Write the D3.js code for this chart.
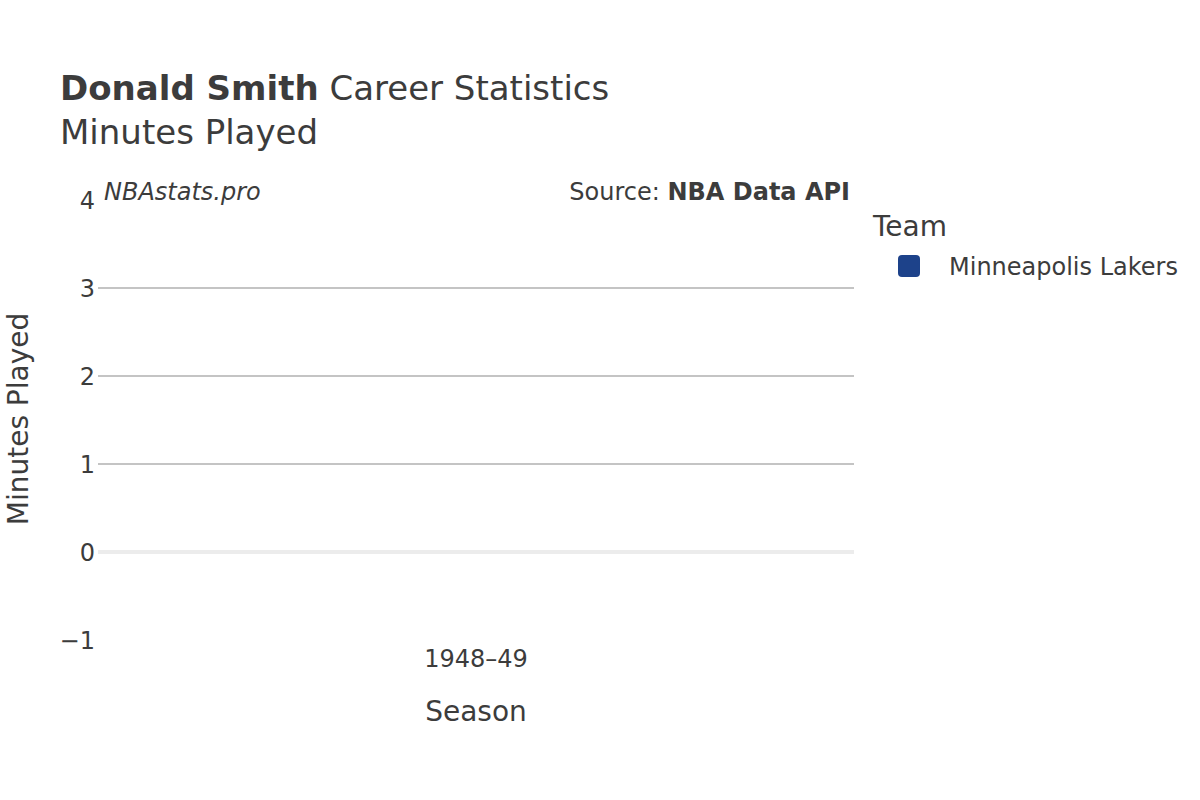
<!DOCTYPE html>
<html>
<head>
<meta charset="utf-8">
<script src="https://cdn.jsdelivr.net/npm/d3@7"></script>
<style>
  body { margin: 0; background: #fff; }
  text { font-family: "DejaVu Sans", sans-serif; fill: #3c3c3c; }
</style>
</head>
<body>
<div id="chart"></div>
<script>
// chart data
const seasons = ['1948–49'];
const teams = ['Minneapolis Lakers'];
const teamColors = ['#1d428a'];
const minutes = [0];
const yTicks = [-1, 0, 1, 2, 3, 4];

const width = 1200, height = 800;
const margin = {top: 200, right: 346, bottom: 160, left: 98};
const plotW = width - margin.left - margin.right;
const plotH = height - margin.top - margin.bottom;

const svg = d3.select('#chart').append('svg')
  .attr('width', width)
  .attr('height', height);

const x = d3.scaleBand().domain(seasons).range([0, plotW]).padding(0.2);
const y = d3.scaleLinear().domain([-1, 4]).range([plotH, 0]);
const color = d3.scaleOrdinal().domain(teams).range(teamColors);

const g = svg.append('g').attr('transform', `translate(${margin.left},${margin.top})`);

// gridlines (not at edges)
g.selectAll('.grid')
  .data(yTicks.filter(d => d !== 0 && d !== -1 && d !== 4))
  .enter().append('line')
  .attr('class', 'grid')
  .attr('x1', 0).attr('x2', plotW)
  .attr('y1', d => y(d)).attr('y2', d => y(d))
  .attr('stroke', '#c4c4c4')
  .attr('stroke-width', 2);

// zero line
g.append('line')
  .attr('x1', 0).attr('x2', plotW)
  .attr('y1', y(0)).attr('y2', y(0))
  .attr('stroke', '#ececec')
  .attr('stroke-width', 4);

// bars
g.selectAll('.bar')
  .data(seasons.map((s, i) => ({season: s, team: teams[i], value: minutes[i]})))
  .enter().append('rect')
  .attr('class', 'bar')
  .attr('x', d => x(d.season))
  .attr('width', x.bandwidth())
  .attr('y', d => y(Math.max(0, d.value)))
  .attr('height', d => Math.abs(y(d.value) - y(0)))
  .attr('fill', d => color(d.team));

// y tick labels
g.selectAll('.ytick')
  .data(yTicks)
  .enter().append('text')
  .attr('class', 'ytick')
  .attr('x', -3)
  .attr('y', d => y(d))
  .attr('dy', '0.36em')
  .attr('text-anchor', 'end')
  .style('font-size', '24px')
  .text(d => d < 0 ? '\u2212' + Math.abs(d) : d);

// x tick labels
g.selectAll('.xtick')
  .data(seasons)
  .enter().append('text')
  .attr('class', 'xtick')
  .attr('x', d => x(d) + x.bandwidth() / 2)
  .attr('y', plotH + 27)
  .attr('text-anchor', 'middle')
  .style('font-size', '24px')
  .text(d => d);

// axis titles
svg.append('text')
  .attr('x', margin.left + plotW / 2)
  .attr('y', 721)
  .attr('text-anchor', 'middle')
  .style('font-size', '28px')
  .text('Season');

svg.append('text')
  .attr('transform', `translate(28,${margin.top + plotH / 2 - 1}) rotate(-90)`)
  .attr('text-anchor', 'middle')
  .style('font-size', '28px')
  .text('Minutes Played');

// title
const title = svg.append('text').attr('x', 60).attr('y', 100).style('font-size', '34px');
title.append('tspan').style('font-weight', 'bold').text('Donald Smith');
title.append('tspan').text(' Career Statistics');

svg.append('text')
  .attr('x', 60).attr('y', 144)
  .style('font-size', '34px')
  .text('Minutes Played');

// watermark + source
svg.append('text')
  .attr('x', 104).attr('y', 200)
  .style('font-size', '24px')
  .style('font-style', 'italic')
  .text('NBAstats.pro');

const src = svg.append('text')
  .attr('x', 850).attr('y', 200)
  .attr('text-anchor', 'end')
  .style('font-size', '24px');
src.append('tspan').text('Source: ');
src.append('tspan').style('font-weight', 'bold').text('NBA Data API');

// legend
svg.append('text')
  .attr('x', 873).attr('y', 236)
  .style('font-size', '28px')
  .text('Team');

const legend = svg.selectAll('.legend')
  .data(teams)
  .enter().append('g')
  .attr('class', 'legend')
  .attr('transform', (d, i) => `translate(898,${255 + i * 40})`);

legend.append('rect')
  .attr('width', 22).attr('height', 22)
  .attr('rx', 4)
  .attr('fill', d => color(d));

legend.append('text')
  .attr('x', 51).attr('y', 11)
  .attr('dy', '0.36em')
  .style('font-size', '24px')
  .text(d => d);
</script>
</body>
</html>
